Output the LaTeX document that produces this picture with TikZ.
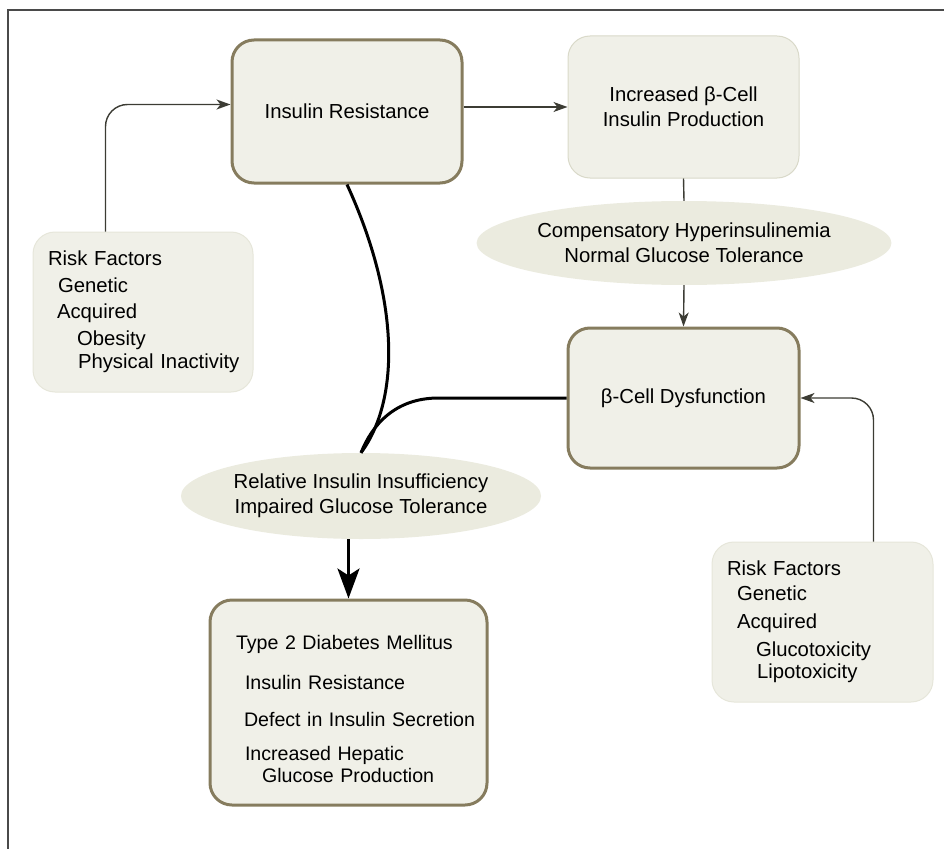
\documentclass[tikz,border=0pt]{standalone}
\usepackage{fontspec}
\setmainfont{Liberation Sans}
\usetikzlibrary{arrows.meta,positioning,calc,shapes.geometric}
\definecolor{boxfill}{HTML}{F0F0E8}
\definecolor{boxedge}{HTML}{867C5E}
\definecolor{lightedge}{HTML}{D9D9C9}
\definecolor{listedge}{HTML}{E6E6DA}
\definecolor{ovalfill}{HTML}{EBEBDF}
\definecolor{wire}{HTML}{3C3C34}
\definecolor{framegray}{HTML}{4A4A4A}
\tikzset{%
  mainbox/.style={draw=boxedge,line width=3pt,fill=boxfill,rounded corners=22pt,align=center,inner sep=0pt},
  plainbox/.style={draw=lightedge,line width=1pt,fill=boxfill,rounded corners=22pt,align=center,inner sep=0pt},
  listbox/.style={draw=listedge,line width=1pt,fill=boxfill,rounded corners=22pt,align=left,inner ysep=0pt},
  oval/.style={ellipse,fill=ovalfill,align=center,inner sep=0pt},
  arrow/.style={-{Stealth[length=14pt,width=10pt,inset=4pt]},line width=1.4pt,draw=wire},
  link/.style={line width=1.4pt,draw=wire},
  thickline/.style={line width=3pt},
  bigarrow/.style={-{Stealth[length=30pt,width=22pt,inset=7pt]},line width=3pt}%
}
\newcommand{\entry}[2]{\mbox{\hspace*{#1pt}#2}}

\begin{document}
\begin{tikzpicture}[
    x=1pt, y=-1pt,
    font=\fontsize{20.3}{25}\selectfont
]
\useasboundingbox (0,0) rectangle (944,848);
\draw[framegray, line width=2pt] (8,10) rectangle (990,900);

% Top row
\node[mainbox, minimum width=230, minimum height=143] (ir) at (347,111.5) {Insulin Resistance};
\node[plainbox, minimum width=231, minimum height=142] (bp) at (683.5,107) {Increased β-Cell\\Insulin Production};
\draw[arrow] (bp.west -| ir.east) -- (bp.west);

% Compensation branch
\node[oval, minimum width=337, minimum height=84] (comp) at (684,243) {Compensatory Hyperinsulinemia\\Normal Glucose Tolerance};
\node[mainbox, minimum width=231, minimum height=140] (bd) at (683.5,398) {β-Cell Dysfunction};
\draw[link] (bp.south) -- (comp.north);
\draw[arrow] (comp.south) -- (bd.north);

% Risk factors
\node[listbox, inner xsep=15pt, text width=190pt, minimum height=160] (riskL) at (143,312)
  {\entry{0}{Risk Factors}\\[2pt]\entry{10}{Genetic}\\[1pt]\entry{9}{Acquired}\\[2pt]\entry{29}{Obesity}\\[-2pt]\entry{30}{Physical Inactivity}};
\node[listbox, inner xsep=15pt, text width=191pt, minimum height=160] (riskR) at (822.5,622)
  {\entry{0}{Risk Factors}\\\entry{10}{Genetic}\\[3pt]\entry{10}{Acquired}\\[3pt]\entry{29}{Glucotoxicity}\\[-3pt]\entry{30}{Lipotoxicity}};
\draw[arrow, rounded corners=22pt] ($(riskL.north west)+(73,0)$) |- ([yshift=7pt]ir.west);
\draw[arrow, rounded corners=22pt] ($(riskR.north west)+(162,0)$) |- (bd.east);

% Decompensation
\node[oval, minimum width=314, minimum height=86] (rel) at (361,496) {Relative Insulin Insufficiency\\Impaired Glucose Tolerance};
\draw[thickline] (ir.south) .. controls (400,300) and (400,400) .. (rel.north);
\draw[thickline] (bd.west) -- ($(bd.west)+(-128,0)$) .. controls (395,398) and (372,425) .. (rel.north);

\node[listbox, draw=boxedge, line width=3pt, inner xsep=12pt, text width=253pt, minimum height=205,
      font=\fontsize{19.6}{25}\selectfont] (t2dm) at (348.5,702.5)
  {\entry{14}{\rule{0pt}{27pt}Type 2 Diabetes Mellitus}\\[15pt]\entry{23}{Insulin Resistance}\\[12pt]\entry{22}{Defect in Insulin Secretion}\\[9pt]\entry{23}{Increased Hepatic}\\[-3pt]\entry{40}{Glucose Production}};
\draw[bigarrow] (rel.south -| t2dm.north) -- (t2dm.north);

\end{tikzpicture}
\end{document}
